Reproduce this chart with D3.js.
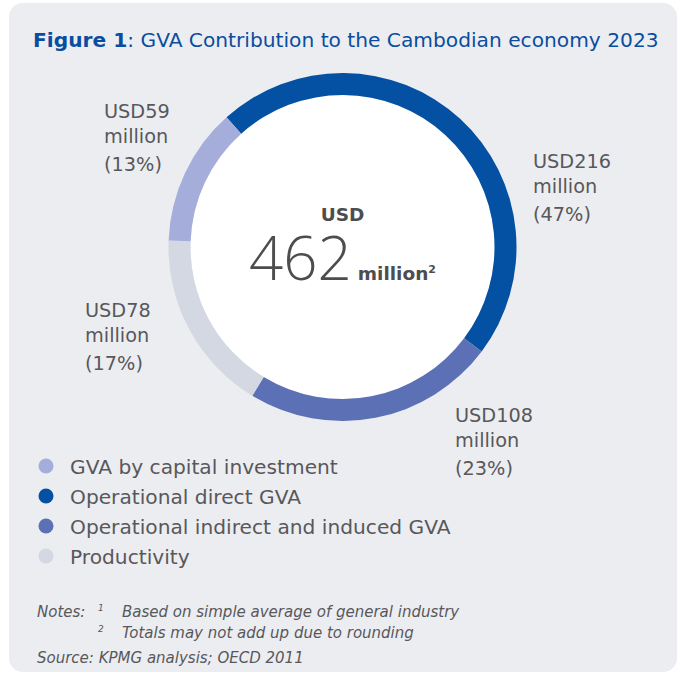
<!DOCTYPE html>
<html>
<head>
<meta charset="utf-8">
<script src="https://cdn.jsdelivr.net/npm/d3@7"></script>
<style>
  html, body { margin: 0; padding: 0; background: #ffffff; }
  svg { display: block; }
  text { font-family: "DejaVu Sans", "Open Sans", sans-serif; }
</style>
</head>
<body>
<svg id="chart" width="680" height="677"></svg>
<script>
// Segments in drawing order (clockwise from the top-left)
const categories = ["Operational direct GVA", "Operational indirect and induced GVA", "Productivity", "GVA by capital investment"];
const values = [216, 108, 78, 59];           // USD million
const colors = ["#0450a3", "#5b70b5", "#d3d8e3", "#a5addb"];
const totalLabel = 462;                      // headline total (rounded)

// Legend order
const legendOrder = ["GVA by capital investment", "Operational direct GVA", "Operational indirect and induced GVA", "Productivity"];

// Label anchor per segment (left x, first baseline y)
const labelAnchors = [[533, 168], [455, 422], [85, 317], [104, 118]];

const svg = d3.select("#chart");
const textGray = "#58585b";

// Card background
svg.append("rect")
  .attr("x", 9).attr("y", 3)
  .attr("width", 668).attr("height", 669)
  .attr("rx", 14).attr("fill", "#ecedf1");

// Title
const title = svg.append("text")
  .attr("x", 33).attr("y", 47)
  .attr("font-size", 20.2)
  .attr("fill", "#0a4da0");
title.append("tspan").attr("font-weight", 700).text("Figure 1");
title.append("tspan").text(": GVA Contribution to the Cambodian economy 2023");

// Donut
const cx = 342.5, cy = 247;
const outerR = 174, innerR = 152;
const startA = -41.8 * Math.PI / 180;

const pie = d3.pie().sort(null).value(d => d)
  .startAngle(startA).endAngle(startA + 2 * Math.PI);
const arcs = pie(values);
const arc = d3.arc().innerRadius(innerR).outerRadius(outerR);

const g = svg.append("g").attr("transform", `translate(${cx},${cy})`);
g.append("circle").attr("r", innerR).attr("fill", "#ffffff");
g.selectAll("path.seg")
  .data(arcs)
  .join("path")
  .attr("class", "seg")
  .attr("d", arc)
  .attr("fill", (d, i) => colors[i]);

// Centre total
g.append("text")
  .attr("x", 0).attr("y", -26)
  .attr("text-anchor", "middle")
  .attr("font-size", 18.5).attr("font-weight", 700)
  .attr("fill", "#4d4d4f")
  .text("USD");
const tot = g.append("text")
  .attr("x", 0).attr("y", 33)
  .attr("text-anchor", "middle")
  .attr("fill", "#4d4d4f");
tot.append("tspan").attr("font-size", 60).attr("font-weight", 300)
  .style("font-family", "'Open Sans', sans-serif").text(totalLabel);
tot.append("tspan").attr("dx", 6).attr("font-size", 18.5).attr("font-weight", 700).text("million");
tot.append("tspan").attr("font-size", 11).attr("font-weight", 700).attr("dy", -7).text("2");

// Segment value labels
const sum = totalLabel;
const fmtPct = v => Math.round(v / sum * 100) + "%";
arcs.forEach((a, i) => {
  const [lx, ly] = labelAnchors[i];
  const t = svg.append("text")
    .attr("x", lx).attr("y", ly)
    .attr("font-size", 19.3)
    .attr("fill", textGray);
  t.append("tspan").attr("x", lx).attr("dy", 0).text("USD" + values[i]);
  t.append("tspan").attr("x", lx).attr("dy", 25).text("million");
  t.append("tspan").attr("x", lx).attr("dy", 28).text("(" + fmtPct(values[i]) + ")");
});

// Legend
const legend = svg.append("g");
legendOrder.forEach((name, i) => {
  const k = categories.indexOf(name);
  const y = 466 + i * 30;
  legend.append("circle").attr("cx", 46).attr("cy", y).attr("r", 7.5).attr("fill", colors[k]);
  legend.append("text")
    .attr("x", 70).attr("y", y + 7.5)
    .attr("font-size", 20.2)
    .attr("fill", textGray)
    .text(name);
});

// Notes and source
const notes = svg.append("g").attr("font-style", "italic").attr("fill", textGray);
notes.append("text").attr("x", 37).attr("y", 617).attr("font-size", 15).text("Notes:");
notes.append("text").attr("x", 98).attr("y", 611).attr("font-size", 9).text("1");
notes.append("text").attr("x", 122).attr("y", 617).attr("font-size", 15).text("Based on simple average of general industry");
notes.append("text").attr("x", 98).attr("y", 632).attr("font-size", 9).text("2");
notes.append("text").attr("x", 122).attr("y", 638).attr("font-size", 15).text("Totals may not add up due to rounding");
notes.append("text").attr("x", 37).attr("y", 663).attr("font-size", 15).text("Source: KPMG analysis; OECD 2011");
</script>
</body>
</html>
